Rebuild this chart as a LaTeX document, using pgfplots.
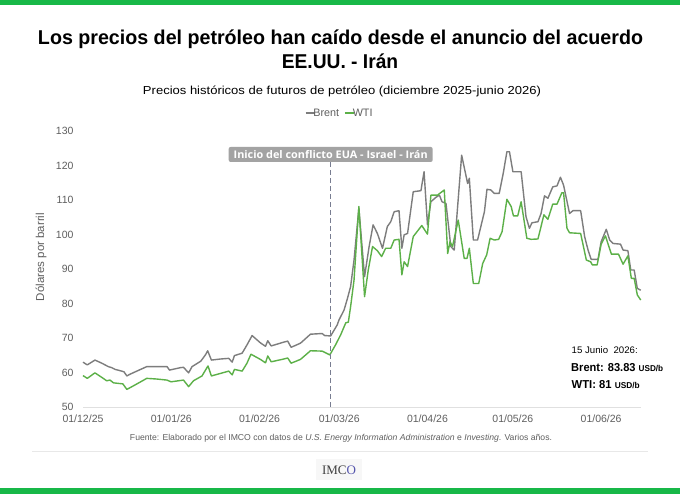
\documentclass[border=0pt]{standalone}
\usepackage{pgfplots}
\usepackage{pgfplotstable}
\pgfplotsset{compat=1.18}
\usepackage{fontspec}
\usepackage{graphicx}
\setmainfont{Liberation Sans}
\newfontfamily\osans{Open Sans}
\newfontfamily\lserif{Liberation Serif}
\definecolor{imcogreen}{RGB}{24,184,72}
\definecolor{wticol}{RGB}{92,176,72}
\definecolor{brentcol}{RGB}{125,125,125}
\definecolor{ticktext}{RGB}{95,95,95}
\definecolor{boxgray}{RGB}{163,163,163}
\definecolor{dashcol}{RGB}{120,125,145}
\definecolor{sepgray}{RGB}{232,232,232}

\pgfplotstableread{
day val
0 63.0
1.5 62.2
4.2 63.6
6.6 62.7
8.9 61.7
10.1 61.4
11.3 60.9
13.6 60.4
14.4 60.2
15.4 59.0
16.5 59.5
18.9 60.4
22.4 61.7
26.0 61.7
29.5 61.7
30.4 60.7
34.2 61.4
35.3 61.5
37.1 59.9
38.3 61.7
41.4 63.3
43.0 65.1
43.8 66.3
45.1 63.6
48.2 63.9
51.2 64.1
52.4 63.0
53.2 64.9
55.9 65.6
57.6 68.0
59.4 70.7
62.3 68.6
64.1 67.6
64.9 69.2
66.1 67.7
70.5 68.8
71.9 69.1
73.1 67.3
76.4 68.5
79.9 71.1
84.0 71.3
84.9 70.7
87.0 70.6
89.3 73.8
89.9 75.2
91.7 78.1
92.9 81.5
94.0 84.9
95.2 92.6
96.9 107.6
98.9 87.8
100.5 96.5
101.9 102.8
103.4 100.3
105.2 96.0
106.9 102.3
108.1 103.7
109.3 106.6
111.0 106.9
112.0 96.0
112.8 99.9
114.0 100.3
116.0 112.4
118.7 112.7
119.8 118.2
121.0 102.8
122.2 109.5
124.0 110.8
125.2 111.4
126.1 109.5
127.5 109.0
129.2 96.5
130.4 95.5
133.0 123.0
135.1 114.8
135.7 116.3
137.1 98.4
138.6 98.4
141.0 106.6
141.9 113.1
143.3 112.9
144.5 111.9
146.2 111.9
147.6 117.7
148.9 124.0
149.8 124.0
151.0 118.2
153.9 118.2
155.6 105.2
156.8 101.8
157.7 103.4
159.8 103.7
160.9 106.1
162.1 111.2
163.3 110.5
165.0 113.8
166.5 114.1
167.7 116.6
168.8 114.3
170.9 106.1
172.1 106.9
174.8 106.9
176.2 99.4
177.4 95.5
178.5 92.8
180.9 92.8
182.0 97.9
183.8 101.5
185.0 98.4
186.2 97.4
188.8 97.2
189.7 95.5
191.4 95.3
192.4 89.7
193.6 89.7
194.7 84.4
195.9 83.83
}\brentdata

\pgfplotstableread{
day val
0 59.1
1.5 58.3
4.2 59.9
7.1 58.3
8.3 57.6
9.5 57.8
10.7 57.0
14.0 56.7
15.4 55.1
18.3 56.4
22.4 58.3
26.0 58.1
29.5 57.8
30.9 57.3
35.3 57.8
37.1 55.9
38.8 57.6
41.8 59.0
43.9 61.9
45.1 59.0
51.2 60.4
52.4 59.3
53.2 60.9
55.9 60.4
57.6 62.7
59.0 65.3
62.3 63.8
64.1 62.8
64.9 64.8
66.1 63.1
70.5 63.9
71.9 64.2
73.1 62.7
76.4 63.8
79.9 66.3
84.0 66.2
86.7 65.1
88.7 68.0
90.5 70.9
92.3 74.4
93.2 74.6
94.0 79.1
95.2 86.8
96.9 108.1
98.9 82.0
100.2 89.7
101.7 96.5
103.4 95.3
104.9 93.6
106.3 96.0
108.1 96.0
109.3 98.4
111.0 98.6
112.0 88.3
112.8 92.1
114.0 90.7
116.0 99.4
119.0 102.6
121.0 100.1
122.2 111.4
124.5 111.4
126.9 112.9
128.1 94.5
128.9 97.9
129.8 96.5
131.8 104.2
133.9 93.1
134.9 93.1
135.7 96.0
137.1 85.8
139.0 85.8
140.4 91.6
141.8 94.1
143.0 98.9
144.5 98.4
146.0 98.6
147.2 100.8
148.9 110.2
150.4 108.1
151.2 105.4
152.7 105.4
153.9 109.5
155.9 98.9
157.4 98.6
159.8 98.7
161.9 105.7
163.3 104.4
165.0 108.8
166.5 108.8
168.2 112.1
168.8 112.1
170.0 101.8
170.9 100.5
174.8 100.3
176.8 92.6
178.3 92.1
178.9 91.2
180.6 91.2
182.0 97.2
183.5 99.6
185.6 94.3
188.1 94.3
189.7 91.4
191.4 93.8
192.6 87.3
193.6 87.3
194.7 82.5
195.9 81.0
}\wtidata

\begin{document}
\begin{tikzpicture}[x=1pt,y=1pt]
\fill[white] (0,0) rectangle (680,494);
\fill[imcogreen] (0,489) rectangle (680,494);
\fill[imcogreen] (0,0) rectangle (680,5.5);
% titles
\node[anchor=base,inner sep=0pt] at (340.5,449) {\resizebox{605pt}{\height}{\bfseries\fontsize{20}{24}\selectfont Los precios del petróleo han caído desde el anuncio del acuerdo}};
\node[anchor=base,inner sep=0pt] at (340,425.7) {\resizebox{116.5pt}{\height}{\bfseries\fontsize{20}{24}\selectfont EE.UU. - Irán}};
\node[anchor=base,inner sep=0pt] at (342,399.7) {\resizebox{398pt}{\height}{\fontsize{11.6}{14}\selectfont Precios históricos de futuros de petróleo (diciembre 2025-junio 2026)}};
% y label
\node[rotate=90,inner sep=0pt,text=ticktext,font=\fontsize{11.5}{13}\selectfont] at (41,237) {Dólares por barril};
% separator and source
\draw[sepgray,line width=1.2pt] (32,42.5) -- (648,42.5);
\node[inner sep=0pt,text=ticktext] at (341,56) {\resizebox{422pt}{\height}{\fontsize{8.6}{10}\selectfont Fuente: Elaborado por el IMCO con datos de \textit{U.S. Energy Information Administration} e \textit{Investing}. Varios años.}};
% logo
\fill[black!3] (316,14) rectangle (362,35);
\node[inner sep=0pt] at (339,24) {\lserif\fontsize{13}{14}\selectfont\textcolor{black!75}{IMC}\textcolor{blue!35!gray}{O}};
% annotation
\node[anchor=west,inner sep=0pt] at (571.5,144) {\resizebox{66pt}{\height}{\fontsize{9.5}{11}\selectfont 15 Junio\ \ 2026:}};
\node[anchor=west,inner sep=0pt] at (571,126.7) {\resizebox{92pt}{\height}{\bfseries\fontsize{11.5}{13}\selectfont Brent: 83.83 {\fontsize{8.5}{10}\selectfont USD/b}}};
\node[anchor=west,inner sep=0pt] at (571.5,109) {\resizebox{68pt}{\height}{\bfseries\fontsize{11.5}{13}\selectfont WTI: 81 {\fontsize{8.5}{10}\selectfont USD/b}}};

\begin{axis}[
  at={(83pt,87pt)}, anchor=south west,
  scale only axis, width=558pt, height=276pt,
  xmin=0, xmax=196, ymin=50, ymax=130,
  clip=false,
  axis x line*=bottom, axis y line*=left,
  x axis line style={-,draw=black!12,line width=0.8pt},
  y axis line style={draw=none},
  major tick length=0pt,
  xtick={0,31,62,90,121,151,182},
  xticklabels={01/12/25,01/01/26,01/02/26,01/03/26,01/04/26,01/05/26,01/06/26},
  ytick={50,60,...,130},
  /pgf/number format/assume math mode=true,
  tick label style={text=ticktext,font=\fontsize{10.5}{12}\selectfont},
  xticklabel style={yshift=-4pt},
  yticklabel style={xshift=-6pt},
  legend style={at={(0.460,1.065)},anchor=center,draw=none,fill=none,
    legend columns=2,font=\fontsize{10.8}{12}\selectfont,text=ticktext,
    /tikz/every even column/.append style={column sep=3pt},
    inner sep=0pt, row sep=0pt},
  legend image code/.code={\draw[#1,line width=1.6pt] (0pt,0pt) -- (9pt,0pt);},
  legend cell align=left,
]
\addplot[brentcol,line width=1.4pt,line join=round] table[x=day,y=val] {\brentdata};
\addlegendentry{\hspace{-4pt}Brent}
\addplot[wticol,line width=1.4pt,line join=round] table[x=day,y=val] {\wtidata};
\addlegendentry{\hspace{-4pt}WTI}
\draw[dashcol,line width=1pt,dash pattern=on 5pt off 3pt] (axis cs:87,50) -- (axis cs:87,121);
\node[fill=boxgray,rounded corners=2pt,text=white,inner xsep=5pt,minimum height=15pt,inner ysep=0pt] at (axis cs:87,123.2) {\resizebox{194pt}{\height}{\osans\bfseries\fontsize{10.5}{12}\selectfont Inicio del conflicto EUA - Israel - Irán}};
\end{axis}
\end{tikzpicture}
\end{document}
